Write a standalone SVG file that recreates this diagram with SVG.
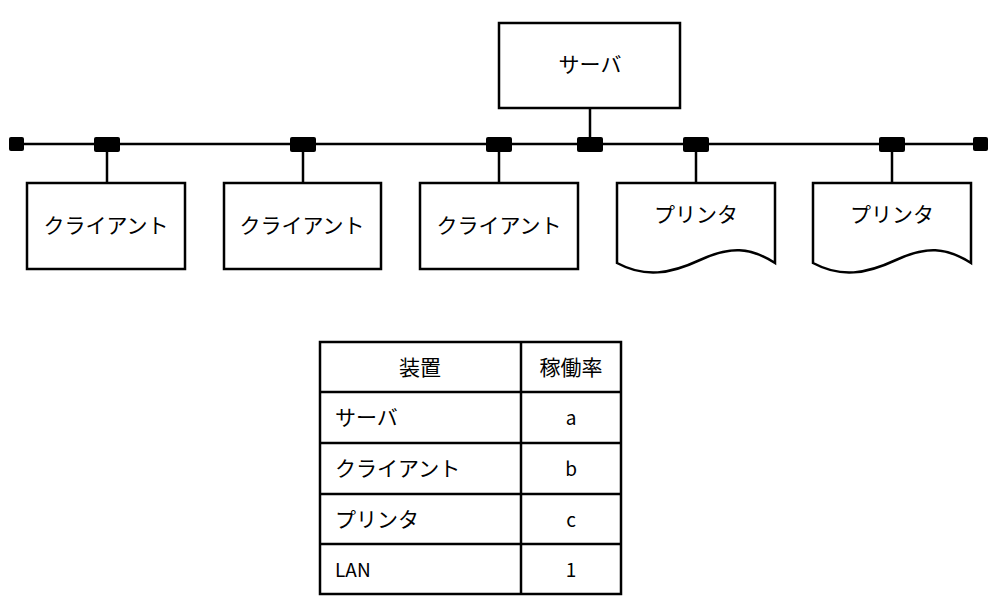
<svg xmlns="http://www.w3.org/2000/svg" width="994" height="610" viewBox="0 0 994 610">
<style>
.b{fill:#fff;stroke:#000;stroke-width:2.5}
.l{stroke:#000;stroke-width:2.5;fill:none}
.t{font-family:"Noto Sans CJK JP","Noto Sans",sans-serif;font-size:21px;fill:#000}
.m{text-anchor:middle}
.tap{fill:#000}
</style>
<rect width="994" height="610" fill="#fff"/>
<g id="connectors">
<line class="l" x1="15" y1="144" x2="980" y2="144"/>
<line class="l" x1="107" y1="144" x2="107" y2="183"/>
<line class="l" x1="303" y1="144" x2="303" y2="183"/>
<line class="l" x1="499" y1="144" x2="499" y2="183"/>
<line class="l" x1="590" y1="108" x2="590" y2="144"/>
<line class="l" x1="696" y1="144" x2="696" y2="183"/>
<line class="l" x1="892" y1="144" x2="892" y2="183"/>
<rect class="tap" x="9" y="137" width="15" height="14" rx="2"/>
<rect class="tap" x="973" y="137" width="15" height="14" rx="2"/>
<rect class="tap" x="94" y="137" width="26" height="15" rx="2"/>
<rect class="tap" x="290" y="137" width="26" height="15" rx="2"/>
<rect class="tap" x="486" y="137" width="26" height="15" rx="2"/>
<rect class="tap" x="577" y="137" width="26" height="15" rx="2"/>
<rect class="tap" x="683" y="137" width="26" height="15" rx="2"/>
<rect class="tap" x="879" y="137" width="26" height="15" rx="2"/>
</g>
<g id="server"><rect class="b" x="499" y="23" width="181" height="85"/><text class="t m" x="590" y="72">サーバ</text></g>
<g id="client1"><rect class="b" x="27" y="183" width="158" height="86"/><text class="t m" x="106" y="233">クライアント</text></g>
<g id="client2"><rect class="b" x="224" y="183" width="157" height="86"/><text class="t m" x="302" y="233">クライアント</text></g>
<g id="client3"><rect class="b" x="420" y="183" width="158" height="86"/><text class="t m" x="499" y="233">クライアント</text></g>
<g id="printer1"><path class="b" d="M617,183 H775 V263 C750,247 730,246 700,260 C670,274 645,278 617,263 Z"/><text class="t m" x="696" y="222">プリンタ</text></g>
<g id="printer2"><path class="b" d="M813,183 H971 V263 C946,247 926,246 896,260 C866,274 841,278 813,263 Z"/><text class="t m" x="892" y="222">プリンタ</text></g>
<g id="table">
<rect class="b" x="320" y="342" width="301" height="252"/>
<line class="l" x1="521" y1="342" x2="521" y2="594"/>
<line class="l" x1="320" y1="392" x2="621" y2="392"/>
<line class="l" x1="320" y1="443" x2="621" y2="443"/>
<line class="l" x1="320" y1="494" x2="621" y2="494"/>
<line class="l" x1="320" y1="544" x2="621" y2="544"/>
<text class="t m" x="420" y="375">装置</text>
<text class="t m" x="571" y="375">稼働率</text>
<text class="t" x="335" y="425">サーバ</text>
<text class="t" x="335" y="476">クライアント</text>
<text class="t" x="335" y="527">プリンタ</text>
<text class="t" x="335" y="577" style="font-size:19px">LAN</text>
<text class="t m" x="571" y="425" style="font-size:19px">a</text>
<text class="t m" x="571" y="476" style="font-size:19px">b</text>
<text class="t m" x="571" y="527" style="font-size:19px">c</text>
<text class="t m" x="571" y="577" style="font-size:19px">1</text>
</g>
</svg>
